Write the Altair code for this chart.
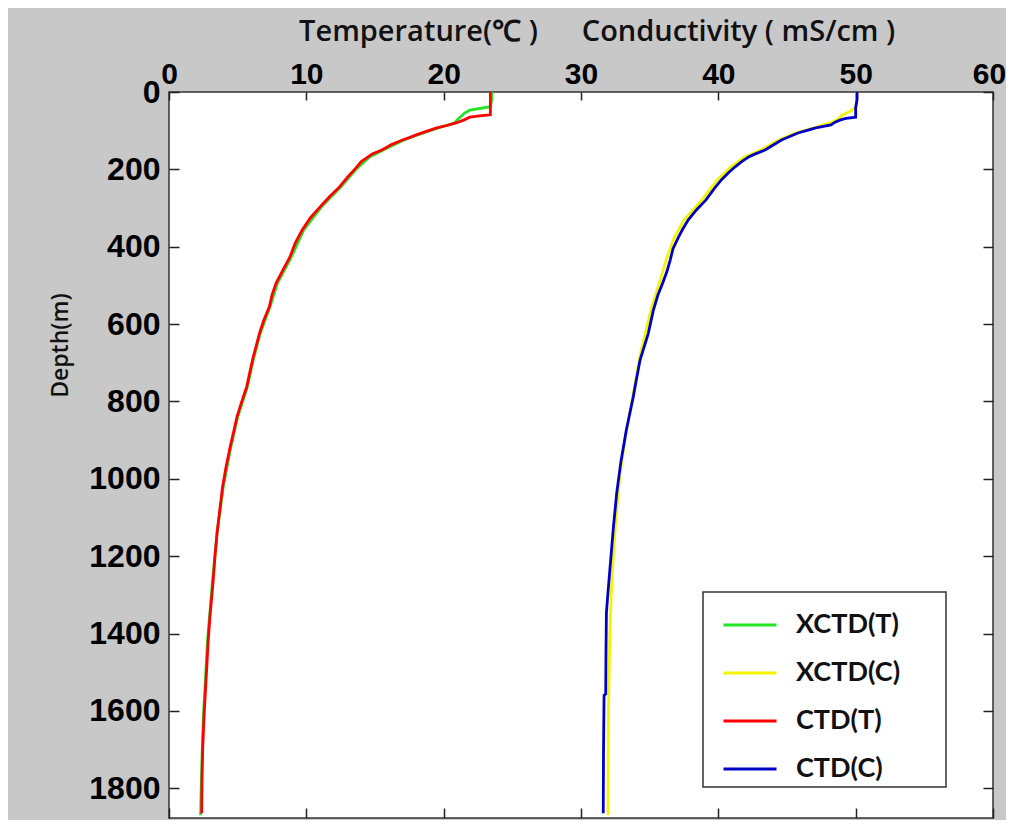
import altair as alt
import pandas as pd

# ---- data (depth in m) ----
ctd_t_depth = [0, 20, 40, 59, 62, 65, 72, 80, 86, 93, 100, 111, 118, 124, 136, 150, 160, 168, 180, 197,
               220, 246, 270, 297, 325, 357, 390, 427, 460, 494, 525, 556, 590, 623, 690, 763, 800, 840,
               880, 918, 970, 1021, 1080, 1140, 1200, 1270, 1357, 1420, 1487, 1550, 1616, 1700, 1787, 1865]
ctd_t_val = [23.4, 23.4, 23.4, 23.4, 22.6, 21.9, 21.5, 20.9, 20.3, 19.5, 18.9, 18.0, 17.5, 17.0, 16.2, 15.5,
             14.8, 14.5, 14.0, 13.6, 13.0, 12.4, 11.7, 11.0, 10.3, 9.7, 9.2, 8.8, 8.3, 7.8, 7.5, 7.3, 6.9,
             6.6, 6.1, 5.65, 5.3, 4.95, 4.7, 4.45, 4.15, 3.9, 3.7, 3.5, 3.35, 3.2, 2.98, 2.85, 2.75, 2.65,
             2.55, 2.45, 2.4, 2.38]

xctd_t_depth = [0, 20, 38, 47, 55, 62, 72, 80, 93, 111, 124, 150, 168, 197, 246, 297, 357, 427, 494, 556,
                623, 690, 763, 840, 918, 1021, 1140, 1270, 1357, 1420, 1487, 1616, 1700, 1787, 1870]
xctd_t_val = [23.5, 23.5, 23.4, 21.9, 21.5, 21.3, 21.0, 20.8, 19.6, 18.1, 17.1, 15.6, 14.6, 13.7, 12.5, 11.1,
              9.8, 8.9, 7.9, 7.35, 6.65, 6.15, 5.7, 5.0, 4.5, 3.95, 3.5, 3.15, 2.95, 2.8, 2.7, 2.5, 2.42,
              2.35, 2.3]

ctd_c_depth = [0, 20, 41, 59, 65, 68, 72, 78, 85, 93, 100, 106, 115, 124, 137, 150, 160, 168, 180, 194,
               210, 228, 250, 279, 305, 331, 355, 375, 405, 434, 465, 494, 525, 564, 624, 693, 750, 789,
               874, 957, 1037, 1125, 1236, 1300, 1347, 1450, 1556, 1560, 1700, 1865]
ctd_c_val = [50.1, 50.1, 50.0, 50.0, 50.0, 49.3, 48.9, 48.5, 48.2, 47.1, 46.4, 45.8, 45.2, 44.6, 44.0, 43.4,
             42.7, 42.2, 41.7, 41.2, 40.7, 40.2, 39.7, 39.1, 38.4, 37.8, 37.4, 37.1, 36.7, 36.5, 36.25,
             35.95, 35.6, 35.27, 34.9, 34.3, 34.0, 33.8, 33.3, 32.9, 32.6, 32.36, 32.1, 31.95, 31.85,
             31.82, 31.8, 31.68, 31.64, 31.62]

xctd_c_depth = [0, 20, 40, 52, 60, 68, 78, 93, 106, 124, 150, 168, 194, 228, 279, 331, 375, 434, 494,
                556, 600, 680, 750, 800, 900, 1000, 1100, 1200, 1300, 1400, 1500, 1600, 1700, 1800, 1870]
xctd_c_val = [50.1, 50.1, 50.0, 49.5, 49.0, 48.8, 48.3, 46.9, 45.6, 44.4, 43.1, 41.9, 40.9, 39.9, 38.8,
              37.5, 36.8, 36.2, 35.7, 35.15, 34.85, 34.3, 33.95, 33.7, 33.2, 32.8, 32.55, 32.35, 32.2,
              32.1, 32.05, 32.0, 31.98, 31.97, 31.97]

series_names = ["XCTD(T)", "XCTD(C)", "CTD(T)", "CTD(C)"]
series_colors = ["#22e622", "#f4f400", "#ff0000", "#0000c8"]

x_ticks = [0, 10, 20, 30, 40, 50, 60]
y_ticks = [0, 200, 400, 600, 800, 1000, 1200, 1400, 1600, 1800]

frames = []
for name, d, v in [("XCTD(T)", xctd_t_depth, xctd_t_val), ("XCTD(C)", xctd_c_depth, xctd_c_val),
                   ("CTD(T)", ctd_t_depth, ctd_t_val), ("CTD(C)", ctd_c_depth, ctd_c_val)]:
    frames.append(pd.DataFrame({"series": name, "depth": d, "value": v}))
df = pd.concat(frames, ignore_index=True)

xscale = alt.Scale(domain=[0, 60], nice=False, zero=False)
yscale = alt.Scale(domain=[0, 1877], reverse=True, nice=False, zero=False)
color = alt.Color("series:N", scale=alt.Scale(domain=series_names, range=series_colors),
                  legend=alt.Legend(title=None,
                                    labelExpr="datum.label + '\u2800\u2800'"))

label_font = "Liberation Sans"

top_axis = alt.Axis(orient="top", values=x_ticks, tickSize=8, offset=-8, domain=False, grid=False,
                    labelFont=label_font, format="d",
                    labelFontSize=30, labelFontWeight="bold", labelColor="#000000", labelPadding=3,
                    labelFlush=False,
                    labelOffset={"condition": {"test": "datum.value == 60", "value": -4}, "value": 0},
                    tickColor="#222222", tickWidth=1.5,
                    title="Temperature(℃ )", titleFont="Open Sans", titleFontSize=29, titleFontWeight=600,
                    titleColor="#111111", titleX=249, titleY=-69, titleAlign="center",
                    titleBaseline="middle", titleAngle=0)
left_axis = alt.Axis(orient="left", values=y_ticks, tickSize=10, offset=-10, domain=False, grid=False,
                     labelFont=label_font, format="d", labelFontSize=32, labelFontWeight="bold",
                     labelColor="#000000", labelPadding=9, labelFlush=False, tickColor="#222222",
                     tickWidth=1.5,
                     title="Depth(m)", titleFont="Open Sans", titleFontSize=23, titleFontWeight=600,
                     titleColor="#111111", titleX=-119, titleY=253, titleAlign="center",
                     titleBaseline="middle", titleAngle=-90)
bottom_axis = alt.Axis(orient="bottom", values=x_ticks, tickSize=10, offset=-10, domain=False, grid=False,
                       labels=False, tickColor="#222222", tickWidth=1.5,
                       title="Conductivity ( mS/cm )", titleFont="Open Sans", titleFontSize=29,
                       titleFontWeight=600, titleColor="#111111", titleX=569, titleY=-777,
                       titleAlign="center", titleBaseline="middle", titleAngle=0)
right_axis = alt.Axis(orient="right", values=y_ticks, tickSize=10, offset=-10, domain=False, grid=False,
                      labels=False, tickColor="#222222", tickWidth=1.5, title=None)

base = alt.Chart(df).mark_line(strokeWidth=2.8, strokeJoin="miter")


def layer_for(name, xaxis, yaxis):
    return base.transform_filter(alt.datum.series == name).encode(
        x=alt.X("value:Q", scale=xscale, axis=xaxis),
        y=alt.Y("depth:Q", scale=yscale, axis=yaxis),
        order=alt.Order("depth:Q"),
        color=color,
    )


chart = alt.layer(
    layer_for("XCTD(T)", top_axis, left_axis),
    layer_for("XCTD(C)", bottom_axis, right_axis),
    layer_for("CTD(T)", None, None),
    layer_for("CTD(C)", None, None),
).resolve_axis(x="independent", y="independent").properties(
    width=824, height=726,
    autosize=alt.AutoSizeParams(type="none"),
    padding={"left": 161, "top": 84, "right": 13, "bottom": 2},
    background="#c8c8c8",
).configure_view(
    fill="#ffffff", stroke="#333333", strokeWidth=1.5
).configure_legend(
    orient="none", legendX=534, legendY=500, padding=5, rowPadding=7, symbolOffset=14,
    fillColor="#ffffff", strokeColor="#333333", strokeWidth=1.5, cornerRadius=0,
    symbolType="stroke", symbolSize=2809, symbolStrokeWidth=3, labelOffset=18,
    labelFont="Lato", labelFontSize=27, labelFontWeight="bold", labelColor="#111111",
)

chart.save("out.html", embed_options={"renderer": "svg", "actions": False})
